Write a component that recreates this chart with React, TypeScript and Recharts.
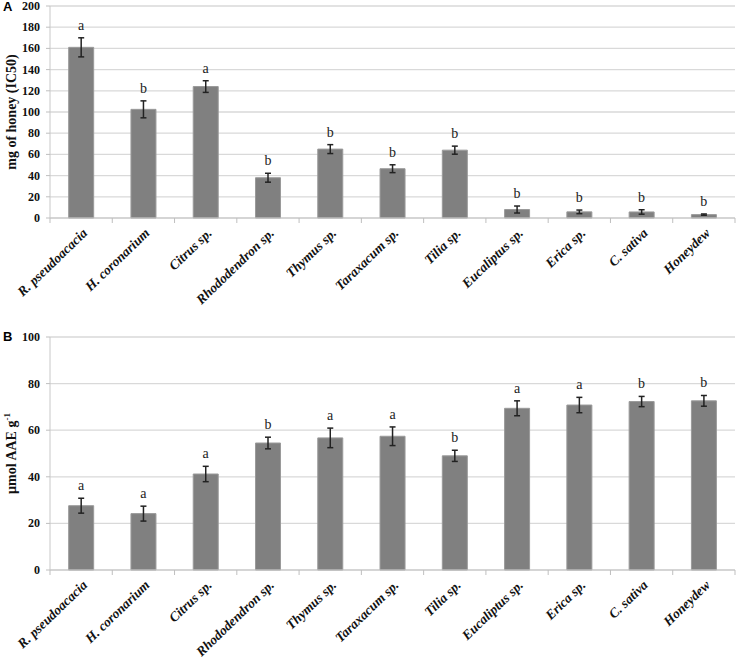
import React from 'react';
import { ComposedChart, Bar, Line, XAxis, YAxis, CartesianGrid, ErrorBar, LabelList } from 'recharts';

const species = [
  'R. pseudoacacia', 'H. coronarium', 'Citrus sp.', 'Rhododendron sp.', 'Thymus sp.',
  'Taraxacum sp.', 'Tilia sp.', 'Eucaliptus sp.', 'Erica sp.', 'C. sativa', 'Honeydew',
];

// panel A - IC50 (mg of honey)
const ic50 = [161, 102.5, 124, 38, 65, 46.5, 64, 8, 5.8, 5.7, 3.2];
const ic50Err = [9, 8, 5.5, 4.2, 4.2, 3.7, 3.8, 3.3, 1.7, 2.1, 0.6];
const ic50Letters = ['a', 'b', 'a', 'b', 'b', 'b', 'b', 'b', 'b', 'b', 'b'];
const ic50Ticks = [0, 20, 40, 60, 80, 100, 120, 140, 160, 180, 200];

// panel B - umol AAE per g
const aae = [27.6, 24.2, 41.2, 54.5, 56.7, 57.4, 49, 69.4, 70.8, 72.3, 72.6];
const aaeErr = [3.2, 3.2, 3.3, 2.5, 4.2, 4, 2.4, 3.2, 3.3, 2.2, 2.3];
const aaeLetters = ['a', 'a', 'a', 'b', 'a', 'a', 'b', 'a', 'a', 'b', 'b'];
const aaeTicks = [0, 20, 40, 60, 80, 100];

const W = 738;
const AXIS_W = 50;
const RIGHT = 3;
const SERIF = '"Liberation Serif", "Times New Roman", serif';
const SANS = '"Liberation Sans", Arial, sans-serif';

const build = (vals: number[], errs: number[], letters: string[]) =>
  species.map((name, i) => ({
    name,
    value: vals[i],
    err: errs[i],
    top: vals[i] + errs[i],
    letter: letters[i],
  }));

const band = (W - AXIS_W - RIGHT) / species.length;

// excel style: small ticks between categories, slanted bold italic names
const XTick = (props: any) => {
  const { x, payload, index, axisY } = props;
  const left = x - band / 2;
  const ax = x + 7;
  const ay = axisY + 16;
  return (
    <g>
      <line x1={left} x2={left} y1={axisY} y2={axisY + 5} stroke="#bfbfbf" />
      {index === species.length - 1 && (
        <line x1={x + band / 2} x2={x + band / 2} y1={axisY} y2={axisY + 5} stroke="#bfbfbf" />
      )}
      <text
        x={ax}
        y={ay}
        transform={`rotate(-44 ${ax} ${ay})`}
        textAnchor="end"
        fontFamily={SERIF}
        fontWeight="bold"
        fontStyle="italic"
        fontSize={13.5}
        fill="#111"
      >
        {payload.value}
      </text>
    </g>
  );
};

// tick text ends ~10px left of the axis, short outward tick mark at the axis
const YTick = (props: any) => {
  const { y, payload } = props;
  return (
    <g>
      <line x1={AXIS_W - 4} x2={AXIS_W} y1={y} y2={y} stroke="#bfbfbf" />
      <text
        x={AXIS_W - 10}
        y={y}
        dy={4}
        textAnchor="end"
        fontFamily={SERIF}
        fontWeight="bold"
        fontSize={12}
        fill="#111"
      >
        {payload.value}
      </text>
    </g>
  );
};

interface PanelProps {
  tag: string;
  data: any[];
  ticks: number[];
  yLabel: React.ReactNode;
  height: number;
  top: number;
  xHeight: number;
}

const Panel: React.FC<PanelProps> = ({ tag, data, ticks, yLabel, height, top, xHeight }) => {
  const plotTop = top;
  const plotBottom = height - xHeight;
  const midY = (plotTop + plotBottom) / 2;
  return (
    <div style={{ position: 'relative', width: W, height }}>
      <div style={{ position: 'absolute', left: 3, top: 0, fontFamily: SANS, fontWeight: 'bold', fontSize: 13, lineHeight: '13px' }}>
        {tag}
      </div>
      <ComposedChart width={W} height={height} data={data} margin={{ top, right: RIGHT, bottom: 0, left: 0 }} barCategoryGap="30%">
        <CartesianGrid vertical={false} stroke="#d9d9d9" strokeWidth={1.3} />
        <XAxis
          dataKey="name"
          height={xHeight}
          interval={0}
          tickLine={false}
          axisLine={{ stroke: '#c8c8c8' }}
          tick={<XTick axisY={plotBottom} />}
        />
        <YAxis
          width={AXIS_W}
          domain={[ticks[0], ticks[ticks.length - 1]]}
          ticks={ticks}
          interval={0}
          tickLine={false}
          axisLine={{ stroke: '#c8c8c8' }}
          tick={<YTick />}
        />
        <Bar dataKey="value" fill="#808080" stroke="#9a9a9a" strokeWidth={1} isAnimationActive={false}>
          <ErrorBar dataKey="err" width={3} stroke="#222" strokeWidth={1.5} />
        </Bar>
        <Line dataKey="top" stroke="none" dot={false} activeDot={false} isAnimationActive={false}>
          <LabelList dataKey="letter" position="top" offset={8} fontFamily={SERIF} fontSize={14} fill="#222" />
        </Line>
      </ComposedChart>
      <svg style={{ position: 'absolute', left: 0, top: 0 }} width={30} height={height}>
        <text
          x={0}
          y={0}
          transform={`translate(16 ${midY}) rotate(-90)`}
          textAnchor="middle"
          fontFamily={SERIF}
          fontWeight="bold"
          fontSize={14}
          fill="#111"
        >
          {yLabel}
        </text>
      </svg>
    </div>
  );
};

export default function App() {
  const dataA = build(ic50, ic50Err, ic50Letters);
  const dataB = build(aae, aaeErr, aaeLetters);
  return (
    <div style={{ width: W, height: 663, background: '#fff' }}>
      <style>{'body{margin:0;}'}</style>
      <Panel tag="A" data={dataA} ticks={ic50Ticks} yLabel="mg of honey (IC50)" height={330} top={6} xHeight={112} />
      <Panel
        tag="B"
        data={dataB}
        ticks={aaeTicks}
        yLabel={
          <>
            µmol AAE g<tspan dy={-6} fontSize={9}>-1</tspan>
          </>
        }
        height={333}
        top={7}
        xHeight={93}
      />
    </div>
  );
}
